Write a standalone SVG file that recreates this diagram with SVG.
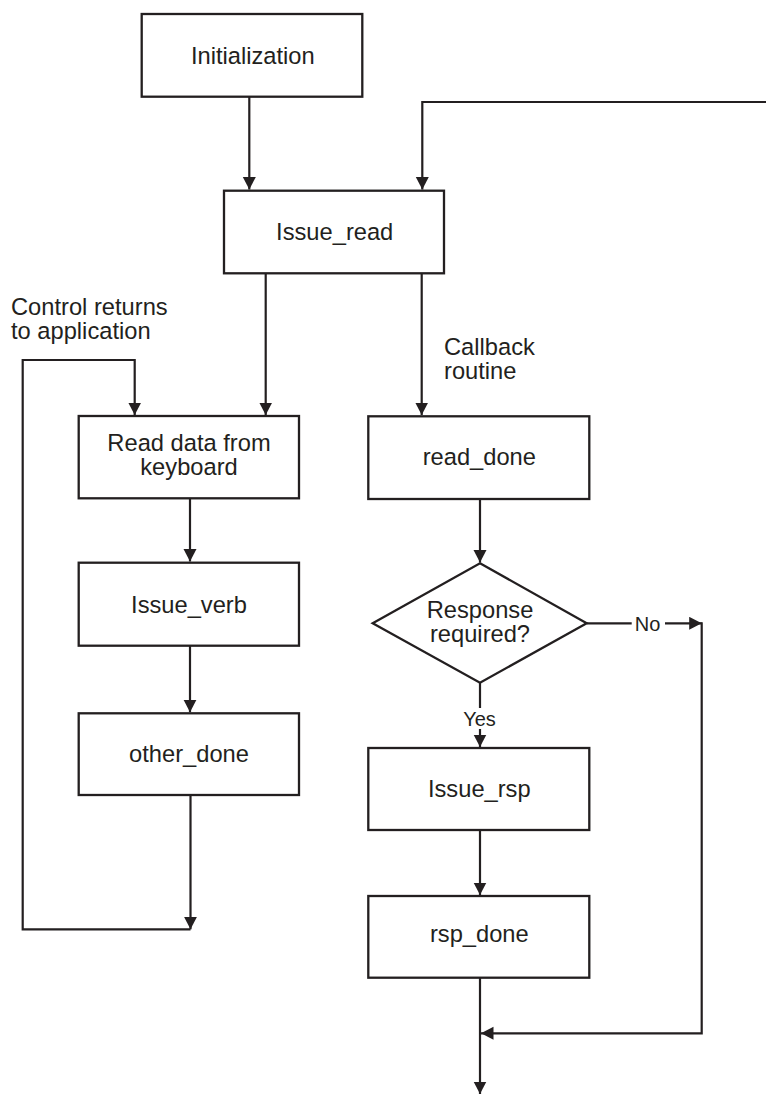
<svg xmlns="http://www.w3.org/2000/svg" width="766" height="1095" viewBox="0 0 766 1095">
<defs>
<style>
.box{fill:#fff;stroke:#231f20;stroke-width:2.3}
.ln{fill:none;stroke:#231f20;stroke-width:2.2}
.t{font-family:"Liberation Sans",Arial,sans-serif;font-size:23.7px;fill:#231f20}
.c{text-anchor:middle}
.s{font-size:20px}
</style>
<marker id="ah" markerUnits="userSpaceOnUse" markerWidth="14" markerHeight="14" refX="12.5" refY="6.5" orient="auto" viewBox="0 0 14 14">
<path d="M0,0 L12.5,6.5 L0,13 z" fill="#231f20"/>
</marker>
</defs>
<rect width="766" height="1095" fill="#fff"/>
<g id="connectors">
<path class="ln" d="M249.3,96.7 V189.5" marker-end="url(#ah)"/>
<path class="ln" d="M766,102 H422.3 V189.5" marker-end="url(#ah)"/>
<path class="ln" d="M265.7,273.3 V415" marker-end="url(#ah)"/>
<path class="ln" d="M421.7,273.3 V415" marker-end="url(#ah)"/>
<path class="ln" d="M190,498.3 V561.5" marker-end="url(#ah)"/>
<path class="ln" d="M190,645.7 V712.2" marker-end="url(#ah)"/>
<path class="ln" d="M190.5,795 V929.3" marker-end="url(#ah)"/>
<path class="ln" d="M190.5,929.3 H22.7 V360 H134.7 V415" marker-end="url(#ah)"/>
<path class="ln" d="M480,499 V562.5" marker-end="url(#ah)"/>
<path class="ln" d="M480,682.7 V708"/>
<path class="ln" d="M480,729 V747" marker-end="url(#ah)"/>
<path class="ln" d="M586.7,623.3 H631.7"/>
<path class="ln" d="M665,623.3 H701.7" marker-end="url(#ah)"/>
<path class="ln" d="M701.7,622.2 V1033.3 H481" marker-end="url(#ah)"/>
<path class="ln" d="M480,830 V895" marker-end="url(#ah)"/>
<path class="ln" d="M480,977.7 V1094" marker-end="url(#ah)"/>
<text class="t s c" x="647.5" y="630.5">No</text>
<text class="t s c" x="479.5" y="725.5">Yes</text>
<text class="t" x="11" y="315">Control returns</text>
<text class="t" x="11" y="339">to application</text>
<text class="t" x="444" y="355">Callback</text>
<text class="t" x="444" y="379">routine</text>
</g>
<g id="initialization">
<rect class="box" x="141.7" y="14" width="220.6" height="82.7"/>
<text class="t c" x="252.8" y="64">Initialization</text>
</g>
<g id="issue_read">
<rect class="box" x="224" y="190.7" width="220" height="82.6"/>
<text class="t c" x="334.7" y="240">Issue_read</text>
</g>
<g id="read_data">
<rect class="box" x="78.7" y="416" width="220.3" height="82.3"/>
<text class="t c" x="189" y="451">Read data from</text>
<text class="t c" x="189" y="475">keyboard</text>
</g>
<g id="issue_verb">
<rect class="box" x="78.7" y="562.7" width="220.3" height="83"/>
<text class="t c" x="189" y="613.3">Issue_verb</text>
</g>
<g id="other_done">
<rect class="box" x="78.7" y="713.3" width="220.3" height="81.7"/>
<text class="t c" x="189" y="761.7">other_done</text>
</g>
<g id="read_done">
<rect class="box" x="368.3" y="416.3" width="221" height="82.7"/>
<text class="t c" x="479.3" y="465">read_done</text>
</g>
<g id="response_required">
<polygon class="box" points="480,563.3 586.7,623.3 480,682.7 372.7,623.3"/>
<text class="t c" x="480" y="618.3">Response</text>
<text class="t c" x="480" y="641.7">required?</text>
</g>
<g id="issue_rsp">
<rect class="box" x="368.3" y="748" width="221" height="82"/>
<text class="t c" x="479.3" y="797.3">Issue_rsp</text>
</g>
<g id="rsp_done">
<rect class="box" x="368.3" y="896" width="221" height="81.7"/>
<text class="t c" x="479.3" y="941.7">rsp_done</text>
</g>
</svg>
